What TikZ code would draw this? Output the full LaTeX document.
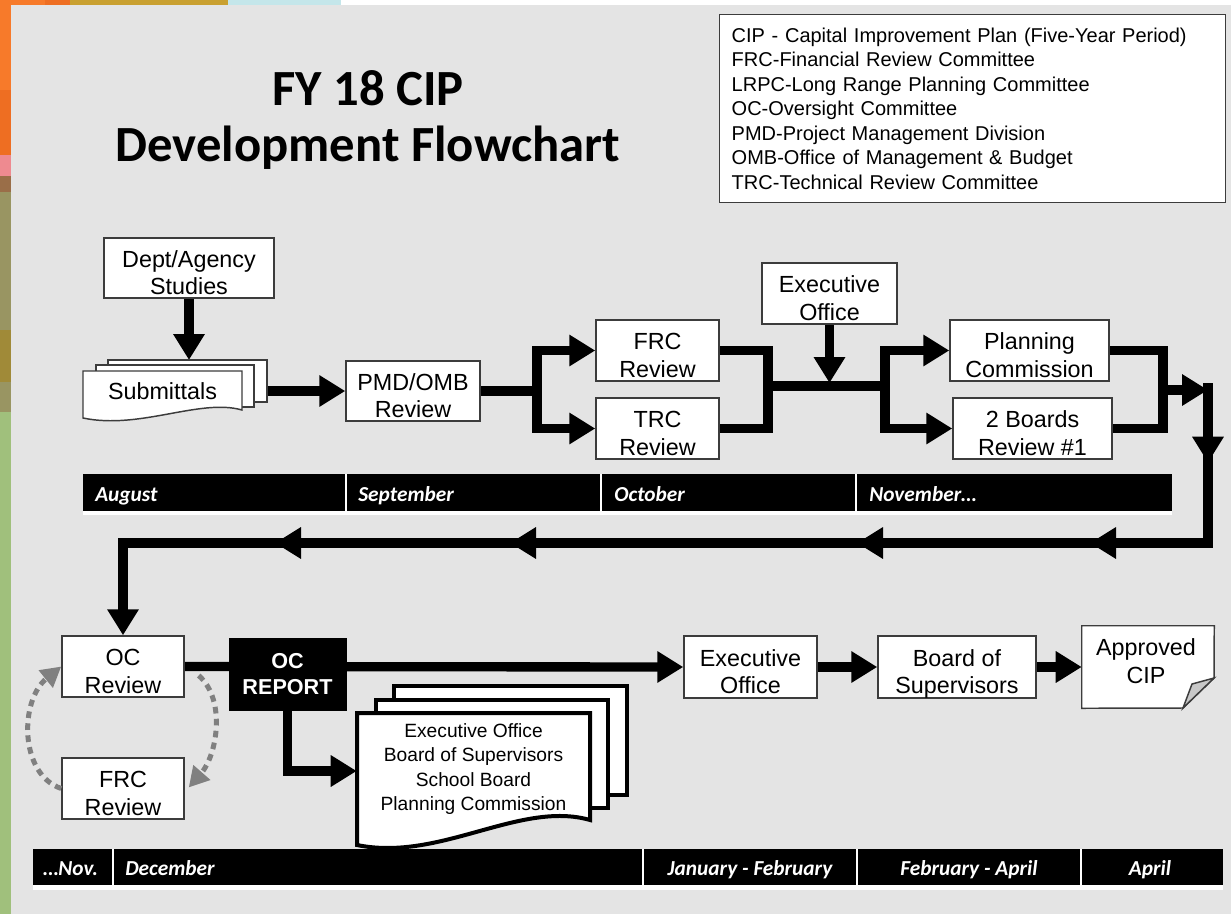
\documentclass[tikz,border=0pt]{standalone}
\usepackage{fontspec}
\setmainfont{Liberation Sans}
\newfontfamily\calib{Carlito}
\usetikzlibrary{arrows.meta,fit,calc,decorations.markings}
\pgfdeclarelayer{bg}
\pgfdeclarelayer{lines}
\pgfsetlayers{bg,lines,main}
\definecolor{bggray}{HTML}{E4E4E4}
\definecolor{boxline}{HTML}{3C3C3C}
\definecolor{dotgray}{HTML}{808080}
\definecolor{foldgray}{HTML}{C8C8C8}
\definecolor{sOrange}{HTML}{F77A2A}
\definecolor{sDarkOr}{HTML}{EE6E22}
\definecolor{sPink}{HTML}{EE8A90}
\definecolor{sBrown}{HTML}{9A6E48}
\definecolor{sOlive}{HTML}{999562}
\definecolor{sOGold}{HTML}{A08A38}
\definecolor{sGreen}{HTML}{A0C07C}
\definecolor{sGold}{HTML}{C9A030}
\definecolor{sCyan}{HTML}{C4E6EA}
\newcommand\boxfont{\fontsize{17.5}{20.5}\selectfont}
\begin{document}
\begin{tikzpicture}[x=0.75pt,y=-0.75pt,
  box/.style={draw=boxline, line width=1.1pt, fill=white, inner sep=0pt, align=center, font=\boxfont, text height=40pt, text depth=0pt},
  sz/.style 2 args={minimum width=#1*0.75pt, minimum height=#2*0.75pt},
  flow/.style={line width=7pt, line join=miter, line cap=rect},
  arr/.style={-{Triangle[width=22.5pt,length=19.5pt]}},
  docline/.style={draw=boxline, line width=1.1pt, fill=white},
  bigdoc/.style={draw=black, line width=3pt, fill=white},
  dots/.style={draw=dotgray, line width=3.75pt, dash pattern=on 5pt off 4pt, -{Triangle[width=16pt,length=15pt]}},
  tl/.style={font=\calib\bfseries\itshape\fontsize{16}{19}\selectfont, text=white, inner sep=0pt}
]
\useasboundingbox (0,0) rectangle (1231,914);
% ---------- background ----------
\begin{pgfonlayer}{bg}
\fill[white] (0,0) rectangle (1231,914);
\fill[sOrange] (0,0) rectangle (45,5);
\fill[sDarkOr] (45,0) rectangle (70,5);
\fill[sGold] (70,0) rectangle (228,5);
\fill[sCyan] (228,0) rectangle (341,5);
\fill[sOrange] (0,0) rectangle (11,155);
\fill[sDarkOr] (0,90) rectangle (11,155);
\fill[sPink] (0,155) rectangle (11,176);
\fill[sBrown] (0,176) rectangle (11,192);
\fill[sOlive] (0,192) rectangle (11,330);
\fill[sOGold] (0,330) rectangle (11,382);
\fill[sOlive] (0,382) rectangle (11,412);
\fill[sGreen] (0,412) rectangle (11,914);
\fill[bggray] (11,5) rectangle (1231,914);
\end{pgfonlayer}
% ---------- title & legend ----------
\node[font=\calib\bfseries\fontsize{38}{46}\selectfont] (t1) at (368,88) {FY 18 CIP};
\node[font=\calib\bfseries\fontsize{38}{46}\selectfont] (t2) at (368,148) {Development Flowchart};
\node[draw=boxline, line width=1.1pt, fill=white, anchor=north west,
      minimum width=506*0.75pt, minimum height=188*0.75pt,
      text width=482*0.75pt, inner xsep=9pt, align=left,
      font=\fontsize{15}{18.4}\selectfont] (legend) at (719,14)
 {CIP - Capital Improvement Plan (Five-Year Period)\\
  FRC-Financial Review Committee\\
  LRPC-Long Range Planning Committee\\
  OC-Oversight Committee\\
  PMD-Project Management Division\\
  OMB-Office of Management \& Budget\\
  TRC-Technical Review Committee};
% ---------- top row boxes ----------
\node[box, sz={170}{60}] (dept) at (189,268) {Dept/Agency\\Studies};
\node[docline, inner sep=0pt, fit={(108,360)(267,402)}] (subback) {};
\node[docline, inner sep=0pt, fit={(96,365)(254,407)}] (submid) {};
\draw[docline] (83,371) -- (242,371) -- (242,410) .. controls (200,398) and (140,430) .. (83,418) -- cycle;
\node[inner sep=0pt, sz={159}{41}, font=\boxfont] (sub) at (162.5,391.5) {Submittals};
\node[box, sz={134}{60}] (pmd) at (413,391) {PMD/OMB\\Review};
\node[box, sz={123}{61}] (frc) at (657.5,350.5) {FRC\\Review};
\node[box, sz={123}{61}] (trc) at (657.5,428.5) {TRC\\Review};
\node[box, sz={135}{61}] (exec1) at (829.5,293.5) {Executive\\Office};
\node[box, sz={159}{61}] (pc) at (1029.5,350.5) {Planning\\Commission};
\node[box, sz={159}{61}] (tb) at (1032.5,428.5) {2 Boards\\Review \#1};
% ---------- timeline 1 ----------
\fill[white] (83,474) rectangle (1172,515);
\fill[black] (83,474) rectangle (1172,511);
\foreach \xx in {346,601,856} \draw[white, line width=0.8pt] (\xx,474) -- (\xx,511);
\node[tl, anchor=base west] (aug) at (95,501) {August};
\node[tl, anchor=base west] (sep) at (358,501) {September};
\node[tl, anchor=base west] (oct) at (614,501) {October};
\node[tl, anchor=base west] (nov) at (869,501) {November…};
% ---------- bottom row ----------
\node[box, sz={122}{61}] (oc) at (123,666.5) {OC\\Review};
\node[box, sz={122}{61}] (frc2) at (123,788.5) {FRC\\Review};
\node[fill=black, draw=black, inner sep=0pt, align=center, text=white, sz={117}{72},
      font=\bfseries\fontsize{16.2}{19.5}\selectfont] (ocr) at (287.5,674) {OC\\REPORT};
\node[bigdoc, inner sep=0pt, fit={(394,686)(627,795)}] (distback) {};
\node[bigdoc, inner sep=0pt, fit={(376,700)(608,808)}] (distmid) {};
\draw[bigdoc] (357,713) -- (590,713) -- (590,820) .. controls (520,800) and (440,862) .. (357,845) -- cycle;
\node[inner sep=0pt, align=center, sz={233}{107}, font=\fontsize{14.4}{18.4}\selectfont] (dist) at (473.5,769)
 {Executive Office\\Board of Supervisors\\School Board\\Planning Commission};
\node[box, sz={133}{62}] (exec2) at (750.5,667) {Executive\\Office};
\node[box, sz={158}{62}] (bos) at (957,667) {Board of\\Supervisors};
\node[inner sep=0pt, fit={(1082,626)(1214,708)}] (appr) {};
\draw[docline] (appr.north west) -- (appr.north east) -- (1214,678) -- (1183,708) -- (appr.south west) -- cycle;
\draw[draw=boxline, line width=1.1pt, fill=foldgray] (1214,678) -- (1192,684) -- (1183,708) -- cycle;
\node[font=\boxfont, align=center, inner sep=0pt] (apprtxt) at (1146,661) {Approved\\CIP};
% ---------- timeline 2 ----------
\fill[white] (33,849) rectangle (1223,890);
\fill[black] (33,849) rectangle (1223,885);
\foreach \xx in {113,643,857,1081} \draw[white, line width=0.8pt] (\xx,849) -- (\xx,885);
\node[tl, anchor=base west] (nov2) at (43,875) {…Nov.};
\node[tl, anchor=base west] (dec) at (125,875) {December};
\node[tl, anchor=base] (janfeb) at (750,875) {January - February};
\node[tl, anchor=base] (febapr) at (969,875) {February - April};
\node[tl, anchor=base] (apr) at (1150,875) {April};
% ---------- connectors ----------
\coordinate (subtop) at (189,360);
\coordinate (split1) at (537,391);
\coordinate (merge1) at (768,386);
\coordinate (split2) at (885,386);
\coordinate (merge2) at (1163,390);
\coordinate (turn) at (1208,388);
\coordinate (c1) at (1208,543);
\coordinate (c2) at (123,543);
\begin{pgfonlayer}{lines}
\draw[flow, arr] (dept.south) -- (subtop);
\draw[flow, arr] (pmd.west -| subback.east) -- (pmd.west);
\draw[flow] (pmd.east) -- (split1);
\draw[flow, arr] (split1) |- (frc.west);
\draw[flow, arr] (split1) |- (trc.west);
\draw[flow] (frc.east) -| (merge1) |- (trc.east);
\draw[flow] (merge1) -- (split2);
\draw[flow, arr] (exec1.south) -- (exec1.south |- 0,383);
\draw[flow, arr] (split2) |- (pc.west);
\draw[flow, arr] (split2) |- (tb.west);
\draw[flow] (pc.east) -| (merge2) |- (tb.east);
\draw[flow, arr] (merge2) -- (turn |- merge2);
\draw[flow, arr, postaction={decorate}, decoration={markings,
   mark=at position 56pt with {\arrow{Triangle[width=22.5pt,length=19.5pt]}},
   mark=at position 204.75pt with {\arrow{Triangle[width=22.5pt,length=19.5pt]}},
   mark=at position 379.5pt with {\arrow{Triangle[width=22.5pt,length=19.5pt]}},
   mark=at position 639.75pt with {\arrow{Triangle[width=22.5pt,length=19.5pt]}},
   mark=at position 816pt with {\arrow{Triangle[width=22.5pt,length=19.5pt]}}}]
   (turn) -- (c1) -- (c2) -- (oc.north);
\draw[flow, arr] (oc.east) -- (exec2.west);
\draw[flow, arr] (ocr.south) |- ([yshift=-1.5pt]dist.west);
\draw[flow, arr] (exec2.east) -- (bos.west);
\draw[flow, arr] (bos.east) -- (appr.west);
\end{pgfonlayer}
\draw[dots] (frc2.west) .. controls +(-42,-14) and +(-42,34) .. (oc.west);
\draw[dots] ($(oc.east)+(14,9)$) .. controls +(28,25) and +(28,-32) .. ($(frc2.east)+(4,-1)$);
\end{tikzpicture}
\end{document}
